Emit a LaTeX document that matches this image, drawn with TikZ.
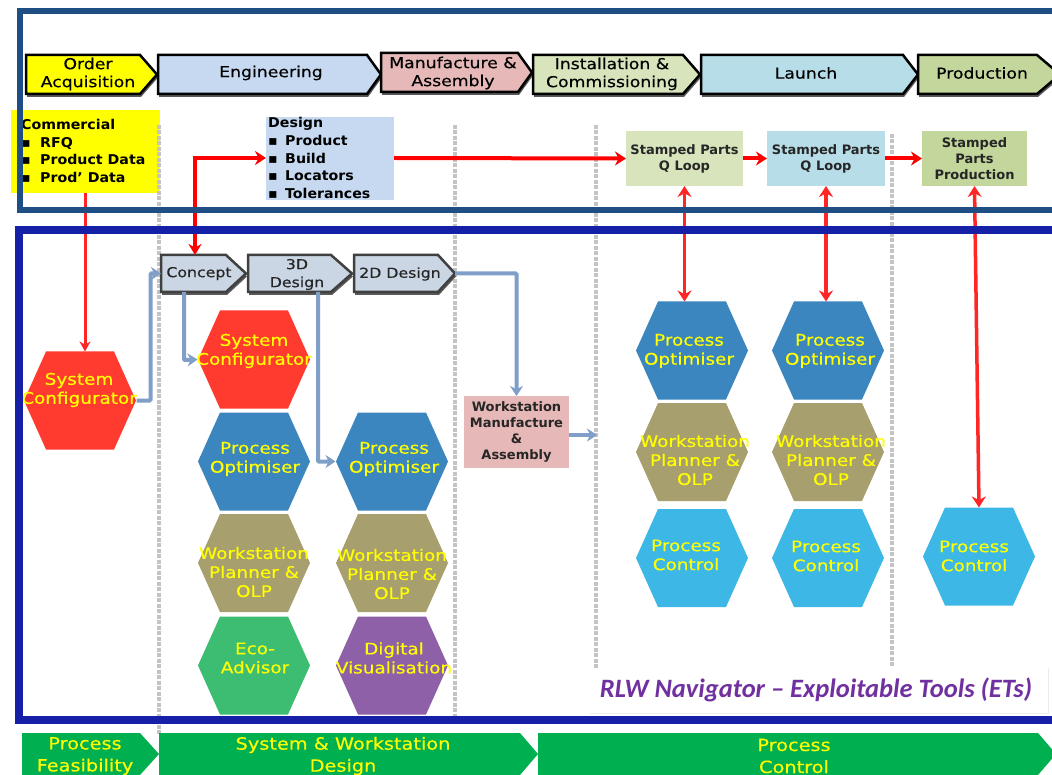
\documentclass[tikz,border=0pt]{standalone}
\usepackage{fontspec}
\setmainfont{DejaVu Sans}
\newfontfamily\carl{Carlito}
\newfontfamily\wide[FakeStretch=1.15,FakeBold=0.35]{DejaVu Sans}
\newfontfamily\widebold[FakeStretch=1.05]{DejaVu Sans Bold}
\usetikzlibrary{arrows.meta,calc}
\definecolor{pureyellow}{RGB}{255,255,0}
\definecolor{framea}{HTML}{1F4E85}
\definecolor{frameb}{HTML}{1520A6}
\definecolor{hred}{HTML}{FF3B30}
\definecolor{hblue}{HTML}{3B86BE}
\definecolor{hkhaki}{HTML}{A89F6E}
\definecolor{hsky}{HTML}{3DB8E6}
\definecolor{hgreen}{HTML}{3DBD72}
\definecolor{hpurple}{HTML}{8E60A8}
\definecolor{flow}{HTML}{7F9FC8}
\definecolor{dgray}{HTML}{C4C4C4}
\definecolor{cblue}{HTML}{C6D9F0}
\definecolor{cpink}{HTML}{E6B8B7}
\definecolor{clime}{HTML}{D7E4BC}
\definecolor{csky}{HTML}{B7DDE8}
\definecolor{colive}{HTML}{C3D69B}
\definecolor{cgrey}{HTML}{CAD6E3}
\definecolor{cpurple}{HTML}{7030A0}
\definecolor{cgreen}{HTML}{00AF50}
\tikzset{
  hextext/.style={text=pureyellow,font=\wide\fontsize{16}{19}\selectfont,align=center,inner sep=0pt},
  chevtext/.style={text=black,font=\wide\fontsize{15}{18}\selectfont,align=center,inner sep=0pt},
  subtext/.style={text=black!85,font=\wide\fontsize{13.7}{18}\selectfont,align=center,inner sep=0pt},
  greentext/.style={text=pureyellow,font=\wide\fontsize{16.8}{22}\selectfont,align=center,inner sep=0pt},
  boxtext/.style={font=\bfseries\fontsize{13}{16}\selectfont,align=center,inner sep=0pt,text=black!85},
  listtext/.style={font=\widebold\fontsize{13.5}{17.6}\selectfont,align=left,inner sep=0pt,anchor=north west,text=black},
  redarrow/.style={draw=red,line width=4pt,-{Stealth[length=11pt,width=14pt]}},
  reddouble/.style={draw=red!85!white,line width=3.5pt,{Stealth[length=11pt,width=14pt]}-{Stealth[length=11pt,width=14pt]}},
  redsingle/.style={draw=red!85!white,line width=3pt,-{Stealth[length=10pt,width=11pt]}},
  flowarrow/.style={draw=flow,line width=4pt,rounded corners=1pt,-{Stealth[length=10pt,width=13pt]}},
  divider/.style={draw=dgray,line width=4.5pt,dash pattern=on 4pt off 1.5pt},
}
% hex: name, cx, cy, colour, text, text-x, text-y
\newcommand{\hexa}[7]{%
  \fill[#4] ({#2-56},#3) -- ({#2-34},{#3-49}) -- ({#2+34},{#3-49}) -- ({#2+56},#3) -- ({#2+34},{#3+49}) -- ({#2-34},{#3+49}) -- cycle;
  \node[minimum width=113pt,minimum height=98pt,inner sep=0pt,outer sep=0pt] (#1) at (#2,#3) {};
  \node[hextext] at (#6,#7) {#5};
}
% chevron: name, x0, shoulder, tip, y0, y1, fill, outline, text node
\newcommand{\chev}[9]{%
  \fill[black!65] ({#2+1},{#5+3}) -- ({#3+1},{#5+3}) -- ({#4+1},{(#5+#6)/2+3}) -- ({#3+1},{#6+3}) -- ({#2+1},{#6+3}) -- cycle;
  \filldraw[fill=#7,draw=#8,line width=2.5pt] (#2,#5) -- (#3,#5) -- (#4,{(#5+#6)/2}) -- (#3,#6) -- (#2,#6) -- cycle;
  \node[minimum width={(#4-#2)*1pt},minimum height={(#6-#5)*1pt},inner sep=0pt,outer sep=0pt] (#1) at ({(#2+#4)/2},{(#5+#6)/2}) {};
  #9
}
\newcommand{\greenchev}[5]{%
  \fill[cgreen] (#2,733) -- (#3,733) -- (#4,754) -- (#3,775) -- (#2,775) -- cycle;
  \node[minimum width={(#4-#2)*1pt},minimum height=42pt,inner sep=0pt,outer sep=0pt] (#1) at ({(#2+#4)/2},754) {};
  #5
}
\begin{document}
\begin{tikzpicture}[x=1pt,y=-1pt]
\useasboundingbox (0,0) rectangle (1052,775);
\fill[white] (0,0) rectangle (1052,775);

% header chevrons
\chev{order}{26}{140}{157}{55}{94}{pureyellow}{black}{\node[chevtext] at (88,74) {Order\\Acquisition};}
\chev{eng}{158}{367}{381}{55}{94}{cblue}{black}{\node[chevtext] at (271,73) {Engineering};}
\chev{manu}{381}{518}{532}{53}{92}{cpink}{black}{\node[chevtext] at (453,73) {Manufacture \&\\Assembly};}
\chev{inst}{533}{683}{700}{55}{94}{clime}{black}{\node[chevtext] at (612,74) {Installation \&\\Commissioning};}
\chev{laun}{701}{903}{918}{55}{94}{csky}{black}{\node[chevtext] at (806,73) {Launch};}
\chev{prod}{918}{1037}{1060}{55}{94}{colive}{black}{\node[chevtext] at (982,73) {Production};}

% boxes of the upper band
\fill[pureyellow] (11,110) rectangle (160,193);
\node[minimum width=149pt,minimum height=83pt,inner sep=0pt,outer sep=0pt] (comm) at (85.5,151.5) {};
\node[listtext] at (21,119) {Commercial\\\makebox[19pt][l]{▪}RFQ\\\makebox[19pt][l]{▪}Product Data\\\makebox[19pt][l]{▪}Prod’ Data};
\fill[cblue] (266,117) rectangle (394,200);
\node[minimum width=128pt,minimum height=83pt,inner sep=0pt,outer sep=0pt] (design) at (330,158) {};
\node[listtext] at (268,117.5) {Design\\\makebox[17pt][l]{▪}Product\\\makebox[17pt][l]{▪}Build\\\makebox[17pt][l]{▪}Locators\\\makebox[17pt][l]{▪}Tolerances};
\node[fill=clime,minimum width=117pt,minimum height=55pt,outer sep=0pt,boxtext] (s1) at (684.5,158.5) {Stamped Parts\\Q Loop};
\node[fill=csky,minimum width=118pt,minimum height=55pt,outer sep=0pt,boxtext] (s2) at (826,158.5) {Stamped Parts\\Q Loop};
\node[fill=colive,minimum width=105pt,minimum height=55pt,outer sep=0pt,boxtext] (s3) at (974.5,158.5) {Stamped\\Parts\\Production};

% hexagons
\hexa{scl}{80}{400.5}{hred}{System\\Configurator}{79}{390}
\hexa{scb}{254}{359.5}{hred}{System\\Configurator}{254}{351}
\hexa{poa}{254}{461.5}{hblue}{Process\\Optimiser}{255}{459}
\hexa{wpa}{254}{563}{hkhaki}{Workstation\\Planner \&\\OLP}{254}{572}
\hexa{eco}{254}{665.5}{hgreen}{Eco-\\Advisor}{255}{658}
\hexa{pob}{392}{461.5}{hblue}{Process\\Optimiser}{394}{459}
\hexa{wpb}{392}{563}{hkhaki}{Workstation\\Planner \&\\OLP}{392}{574}
\hexa{dig}{392}{665.5}{hpurple}{Digital\\Visualisation}{394}{658}
\hexa{poc}{692}{350.5}{hblue}{Process\\Optimiser}{689}{351}
\hexa{wpc}{692}{452}{hkhaki}{Workstation\\Planner \&\\OLP}{695}{460}
\hexa{pcc}{692}{558}{hsky}{Process\\Control}{686}{555}
\hexa{pod}{828}{350.5}{hblue}{Process\\Optimiser}{830}{351}
\hexa{wpd}{828}{452}{hkhaki}{Workstation\\Planner \&\\OLP}{831}{460}
\hexa{pcd}{828}{558}{hsky}{Process\\Control}{826}{556}
\hexa{pce}{979}{556.5}{hsky}{Process\\Control}{974}{556}

% dividers
\coordinate (da) at (159,125); \coordinate (db) at (159,735);
\coordinate (dc) at (455,125); \coordinate (dd) at (455,718);
\coordinate (de) at (596,125); \coordinate (df) at (596,668);
\coordinate (dg) at (892,134); \coordinate (dh) at (892,668);
\draw[divider] (da) -- (db);
\draw[divider] (dc) -- (dd);
\draw[divider] (de) -- (df);
\draw[divider] (dg) -- (dh);

% design chevrons
\chev{conc}{161}{226}{246}{255}{292}{cgrey}{black!75}{\node[subtext] at (199,273.5) {Concept};}
\chev{thrd}{248}{331}{352}{255}{292}{cgrey}{black!75}{\node[subtext] at (297,274.5) {3D\\Design};}
\chev{twod}{354}{438}{455}{255}{292}{cgrey}{black!75}{\node[subtext] at (400,274) {2D Design};}

\node[fill=cpink,minimum width=105pt,minimum height=72pt,outer sep=0pt,boxtext] (work) at (516.5,432) {Workstation\\Manufacture\\\&\\Assembly};
\coordinate (workout) at (597,435);

% flow connectors
\draw[flowarrow] (scl.east) -- ++(14,0) |- (conc.west);
\draw[flowarrow] (conc.south -| 184,0) -- (184,360) -- (scb.west);
\draw[flowarrow] (thrd.south -| 318,0) -- (318,461.5) -- (pob.west);
\draw[flowarrow] (twod.east) -| (work.north);
\draw[flowarrow] (work.east |- workout) -- (workout);

% red connectors
\draw[redsingle] (comm.south -| 85,0) -- (scl.north -| 85,0);
\draw[draw=red,line width=3.5pt,{Stealth[length=11pt,width=13pt]}-{Stealth[length=11pt,width=14pt]}] (conc.north -| 195,0) -- (195,158) -- (design.west);
\draw[redarrow] (design.east) -- (s1.west);
\draw[redarrow] (s1.east) -- (s2.west);
\draw[redarrow] (s2.east) -- (s3.west);
\draw[reddouble] (s1.south) -- (s1.south |- poc.north);
\draw[reddouble] (s2.south) -- (s2.south |- pod.north);
\draw[reddouble] (s3.south) -- (pce.north);

% frames
\draw[framea,line width=6pt] (1060,11) -- (20,11) -- (20,210) -- (1060,210);
\draw[frameb,line width=8pt] (1060,230) -- (19,230) -- (19,720) -- (1060,720);

% tool label
\fill[white] (590,668) rectangle (1048,713);
\draw[black!8,line width=1pt] (590,713) -- (1048,713) -- (1048,668);
\node[inner sep=0pt,text=cpurple,font=\carl\bfseries\itshape\fontsize{26.5}{28}\selectfont] (rlw) at (816,690) {RLW Navigator – Exploitable Tools (ETs)};

% bottom band
\greenchev{gpf}{22}{140}{159}{\node[greentext] at (85,756) {Process\\Feasibility};}
\greenchev{gsd}{159}{520}{538}{\node[greentext] at (343,756) {System \& Workstation\\Design};}
\greenchev{gpc}{538}{1038}{1056}{\node[greentext] at (794,756) {Process\\Control};}
\end{tikzpicture}
\end{document}
